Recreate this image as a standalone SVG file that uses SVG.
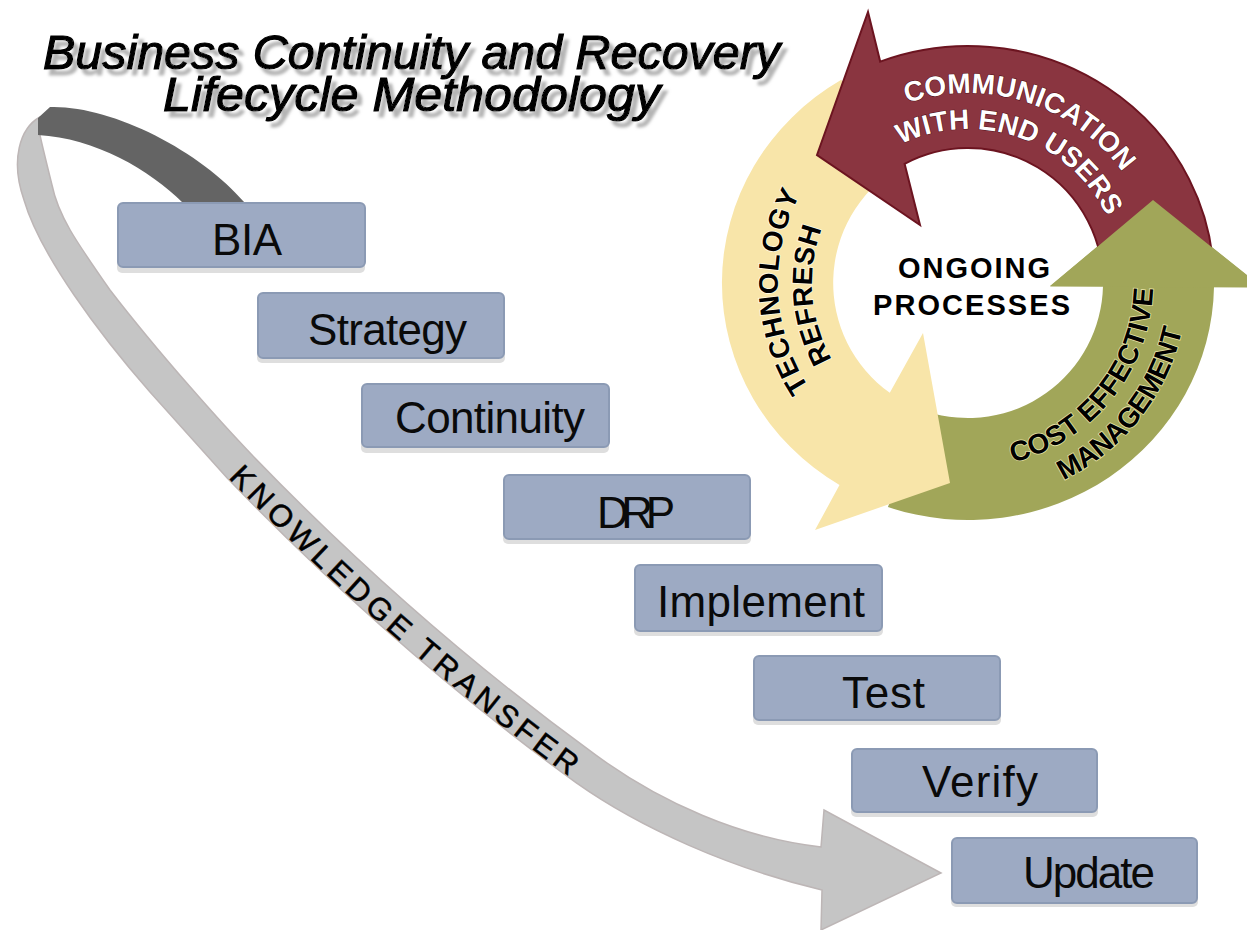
<svg xmlns="http://www.w3.org/2000/svg" width="1247" height="930" viewBox="0 0 1247 930">
<defs>
<style>
.box{fill:#9daac3;stroke:#8b9ab4;stroke-width:2}
.shd{fill:#dedede}
.lbl{font-family:"Liberation Sans",Arial,sans-serif;font-size:44px;fill:#0a0a0a;text-anchor:middle}
.title{font-family:"Liberation Sans",Arial,sans-serif;font-size:48px;font-style:italic;fill:#000;stroke:#000;stroke-width:1.2}
.ring{font-family:"Liberation Sans",Arial,sans-serif;font-size:28px;font-weight:bold}
.wt{fill:#ffffff;stroke:#4a0c14;stroke-width:1;paint-order:stroke}
.bk{fill:#000000;stroke:#fffbe6;stroke-width:1.6;paint-order:stroke}
.bkg{fill:#000000;stroke:#e6e2a6;stroke-width:1.6;paint-order:stroke}
.ctr{font-family:"Liberation Sans",Arial,sans-serif;font-size:29px;font-weight:bold;fill:#000}
.kt{font-family:"Liberation Sans",Arial,sans-serif;font-size:31px;fill:#000;stroke:#000;stroke-width:0.5}
</style>
<filter id="tshadow" x="-5%" y="-30%" width="115%" height="170%">
<feGaussianBlur in="SourceAlpha" stdDeviation="1.6" result="b"/>
<feOffset in="b" dx="5" dy="6" result="o"/>
<feFlood flood-color="#b4b4b4"/>
<feComposite in2="o" operator="in" result="s"/>
<feMerge><feMergeNode in="s"/><feMergeNode in="SourceGraphic"/></feMerge>
</filter>
<path id="pCom" d="M 840.3,142.4 A 190 190 0 0 1 1153.7,242.7"/>
<path id="pWith" d="M 867.4,166.4 A 154 154 0 0 1 1119.3,254.1"/>
<path id="pTech" d="M 880.7,451.8 A 190 190 0 0 1 865.5,123"/>
<path id="pRef" d="M 900.6,423.7 A 156 156 0 0 1 879.9,154.3"/>
<path id="pCost" d="M 939.7,465.8 A 185 185 0 0 0 1140.5,216.1"/>
<path id="pMan" d="M 936.4,499.7 A 219 219 0 0 0 1171.5,202"/>
<path id="pKT" d="M 236,470 Q 400,640 583,773"/>
</defs>
<rect width="1247" height="930" fill="#ffffff"/>

<g id="title" filter="url(#tshadow)">
<text class="title" x="43" y="69" textLength="737" lengthAdjust="spacingAndGlyphs">Business Continuity and Recovery</text>
<text class="title" x="163" y="111" textLength="497" lengthAdjust="spacingAndGlyphs">Lifecycle Methodology</text>
</g>

<g id="connectors">
<path d="M 40,117 C 20,128 10,160 24,200 C 40,255 100,335 150,392 C 178,423 205,453 227.4,478.3 Q 392.2,649.1 576,782.7 C 640,828 730,868 822,890 L 821,930 L 941,873 L 824,810 L 821,847 C 740,838 660,802 595.9,755.2 Q 414.3,623.3 251.8,454.8 C 225,427 160,355 110,290 C 75,240 58,215 52,185 C 47,165 42,145 40,135 Z" fill="#c5c5c5" stroke="#bdb6b6" stroke-width="1.5"/>
<path d="M 50,107 C 110,105 200,150 245,203 L 183,203 C 150,170 95,138 38,135 L 38,118 Z" fill="#646464"/>
<text class="kt" dominant-baseline="central"><textPath href="#pKT" textLength="452" lengthAdjust="spacing">KNOWLEDGE TRANSFER</textPath></text>
</g>

<g id="ongoing-processes">
<path id="arrow-cost" d="M 887.9,507.1 A 246 237 0 0 0 1214,287 L 1262,287 L 1153,200 L 1050,286 L 1103,286 A 135 135 0 0 1 926.3,411.4 Z" fill="#a1a659"/>
<path id="arrow-tech" d="M 841.3,79.8 A 246 237 0 0 0 839.5,485.1 L 815,530 L 950,483 L 923,333 L 889.8,392.8 A 135 135 0 0 1 896.5,168.5 Z" fill="#f8e5a9"/>
<path id="arrow-comm" d="M 1214,283 A 246 237 0 0 0 880.2,61.6 L 868,12 L 817,155 L 920,225 L 904.6,163.8 A 135 135 0 0 1 1103,283 Z" fill="#8a3540" stroke="#6c1420" stroke-width="2" stroke-linejoin="miter"/>
<path d="M 1050,286.5 L 1153,200 L 1262,287.5 Z" fill="#a1a659"/>
<text class="ring wt"><textPath href="#pCom" startOffset="50%" text-anchor="middle">COMMUNICATION</textPath></text>
<text class="ring wt"><textPath href="#pWith" startOffset="50%" text-anchor="middle">WITH END USERS</textPath></text>
<text class="ring bk" letter-spacing="0.6"><textPath href="#pTech" startOffset="50%" text-anchor="middle">TECHNOLOGY</textPath></text>
<text class="ring bk" letter-spacing="0.3"><textPath href="#pRef" startOffset="50%" text-anchor="middle">REFRESH</textPath></text>
<text class="ring bkg"><textPath href="#pCost" startOffset="50%" text-anchor="middle">COST EFFECTIVE</textPath></text>
<text class="ring bkg" letter-spacing="-0.6"><textPath href="#pMan" startOffset="50%" text-anchor="middle">MANAGEMENT</textPath></text>
<text class="ctr" x="898" y="278" textLength="152" lengthAdjust="spacing">ONGOING</text>
<text class="ctr" x="873" y="315" textLength="197" lengthAdjust="spacing">PROCESSES</text>
</g>

<g id="node-bia">
<rect class="shd" x="117" y="206" width="248" height="67" rx="5"/>
<rect class="box" x="118" y="203" width="247" height="64" rx="5"/>
<text class="lbl" x="247" y="255" textLength="70">BIA</text>
</g>
<g id="node-strategy">
<rect class="shd" x="257" y="296" width="248" height="67" rx="5"/>
<rect class="box" x="258" y="293" width="246" height="65" rx="5"/>
<text class="lbl" x="387.5" y="345" textLength="159">Strategy</text>
</g>
<g id="node-continuity">
<rect class="shd" x="361" y="387" width="248" height="66" rx="5"/>
<rect class="box" x="362" y="384" width="247" height="63" rx="5"/>
<text class="lbl" x="490" y="433" textLength="190">Continuity</text>
</g>
<g id="node-drp">
<rect class="shd" x="503" y="478" width="248" height="66" rx="5"/>
<rect class="box" x="504" y="475" width="246" height="64" rx="5"/>
<text class="lbl" x="636" y="528" textLength="78">DRP</text>
</g>
<g id="node-implement">
<rect class="shd" x="634" y="568" width="249" height="68" rx="5"/>
<rect class="box" x="635" y="565" width="247" height="66" rx="5"/>
<text class="lbl" x="761" y="617" textLength="208">Implement</text>
</g>
<g id="node-test">
<rect class="shd" x="753" y="659" width="248" height="66" rx="5"/>
<rect class="box" x="754" y="656" width="246" height="64" rx="5"/>
<text class="lbl" x="883.5" y="708" textLength="83">Test</text>
</g>
<g id="node-verify">
<rect class="shd" x="851" y="752" width="247" height="65" rx="5"/>
<rect class="box" x="852" y="749" width="245" height="63" rx="5"/>
<text class="lbl" x="980" y="797" textLength="116">Verify</text>
</g>
<g id="node-update">
<rect class="shd" x="951" y="841" width="247" height="66" rx="5"/>
<rect class="box" x="952" y="838" width="245" height="65" rx="5"/>
<text class="lbl" x="1089" y="888" textLength="132">Update</text>
</g>
</svg>
